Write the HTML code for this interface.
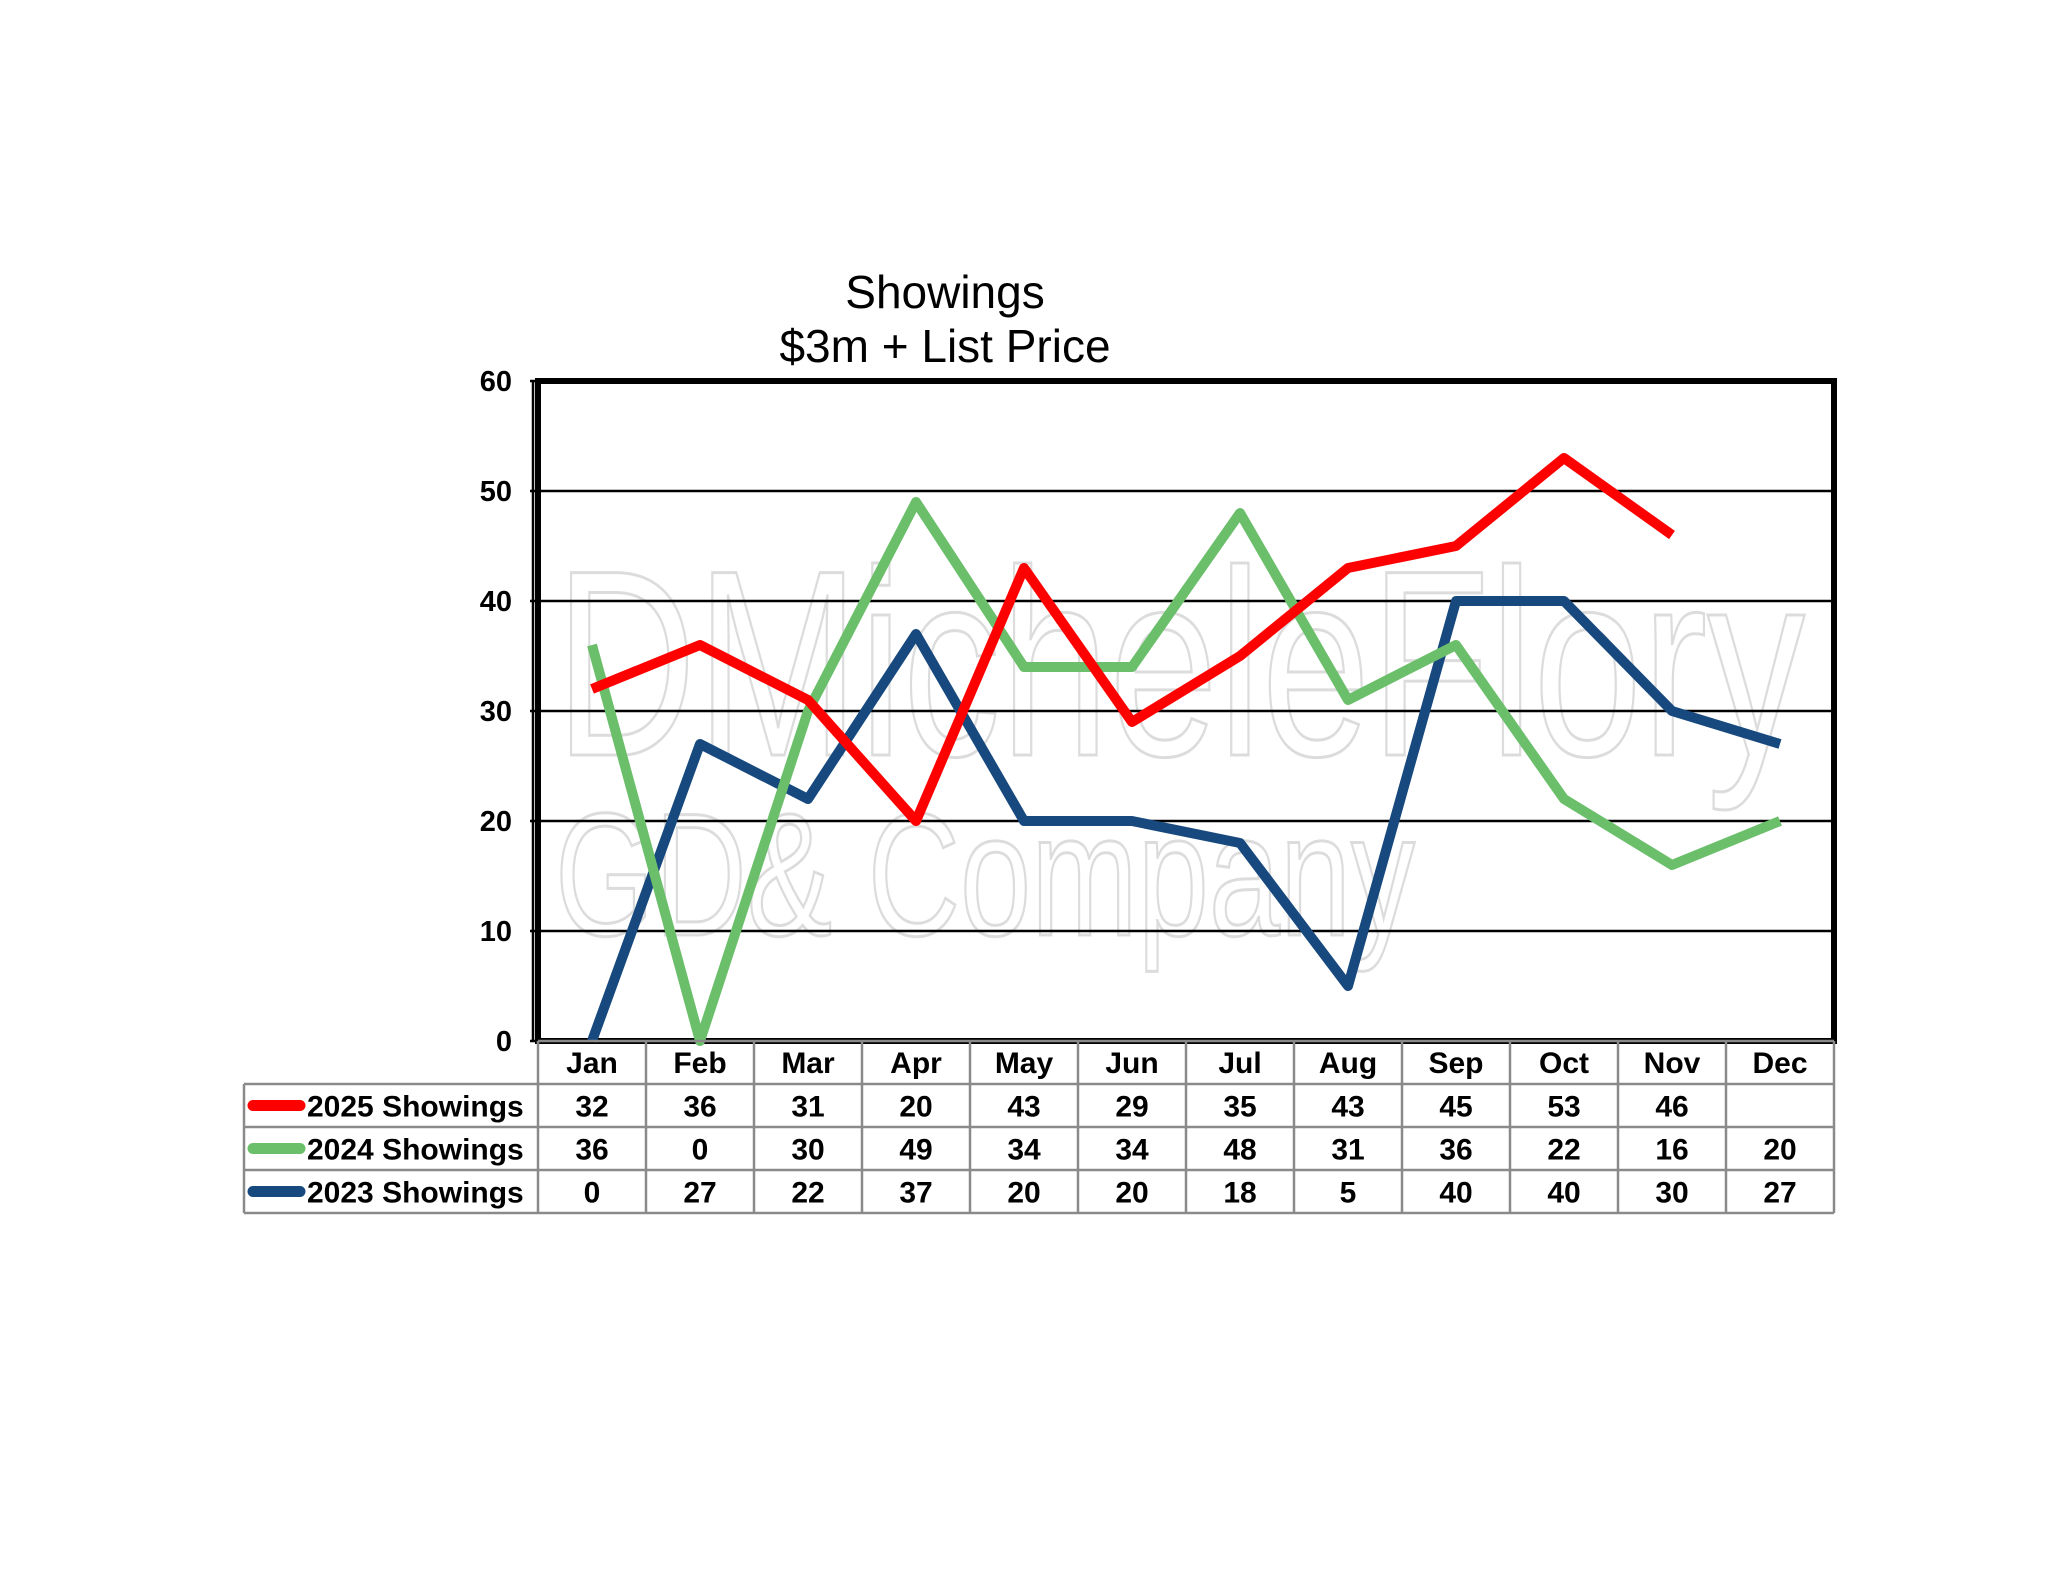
<!DOCTYPE html>
<html><head><meta charset="utf-8"><style>
body{margin:0;background:#fff;}
svg{display:block;font-family:"Liberation Sans",Arial,sans-serif;}
</style></head><body>
<svg id="chart" width="2048" height="1583" viewBox="0 0 2048 1583">
<rect width="2048" height="1583" fill="#fff"/>
<text x="945" y="308" font-size="46" text-anchor="middle">Showings</text>
<text x="945" y="362" font-size="46" text-anchor="middle">$3m + List Price</text>
<g fill="none" stroke="#dcdcdc" stroke-width="3">
<text x="555" y="755" font-size="265" textLength="1250" lengthAdjust="spacingAndGlyphs">DMicheleFlory</text>
<text x="555" y="935" font-size="175" textLength="860" lengthAdjust="spacingAndGlyphs">GD&amp; Company</text>
</g>
<g id="grid"></g>
<g id="lines"></g>
<g id="table"></g>
</svg>
<script>
const months=["Jan","Feb","Mar","Apr","May","Jun","Jul","Aug","Sep","Oct","Nov","Dec"];
const s2025=[32,36,31,20,43,29,35,43,45,53,46,null];
const s2024=[36,0,30,49,34,34,48,31,36,22,16,20];
const s2023=[0,27,22,37,20,20,18,5,40,40,30,27];
const seriesNames=["2025 Showings","2024 Showings","2023 Showings"];
const yTicks=[0,10,20,30,40,50,60];
const NS="http://www.w3.org/2000/svg";
const L=538,R=1834,T=381,B=1041,yMax=60;
const colW=(R-L)/months.length;
const xp=i=>L+colW*(i+0.5);
const yp=v=>B-(v/yMax)*(B-T);
function mk(tag,attrs,parent,txt){const e=document.createElementNS(NS,tag);for(const k in attrs)e.setAttribute(k,attrs[k]);if(txt!==undefined)e.textContent=txt;parent.appendChild(e);return e;}
const grid=document.getElementById('grid');
yTicks.forEach(v=>{
  const l=mk('line',{x1:L-8,x2:R,y1:yp(v),y2:yp(v),stroke:'#000','stroke-width':2.5},grid);
  
  
  const t=mk('text',{x:512,y:yp(v)+10,'font-size':29,'font-weight':'bold','text-anchor':'end'},grid,v);
  
  
});
const frame=mk('rect',{x:L,y:T,width:R-L,height:B-T,fill:'none',stroke:'#000','stroke-width':6},grid);


const ax=mk('line',{x1:L-5,x2:L-5,y1:T,y2:B,stroke:'#000','stroke-width':2.5},grid);


const series=[s2023,s2024,s2025];
const colors=["#17497e","#6bbf6b","#ff0000"];
const sn=["2023 Showings","2024 Showings","2025 Showings"];
const lines=document.getElementById('lines');
series.forEach((s,k)=>{
  let d="";let started=false;
  s.forEach((v,i)=>{if(v===null)return;d+=(started?"L":"M")+xp(i)+","+yp(v)+" ";started=true;});
  const p=mk('path',{d:d,fill:'none',stroke:colors[k],'stroke-width':10,'stroke-linejoin':'round'},lines);
  
  
});
const tb=document.getElementById('table');
const rowsY=[1041,1084,1127,1170,1213];
const gray='#8a8a8a';
rowsY.forEach((y,i)=>{
  const x1=i===0?L:244;
  const hl=mk('line',{x1:x1,x2:R,y1:y,y2:y,stroke:gray,'stroke-width':2.5},tb);
  
  
});
for(let i=0;i<=months.length;i++){
  const x=L+colW*i;
  const vl=mk('line',{x1:x,x2:x,y1:1041,y2:1213,stroke:gray,'stroke-width':2.5},tb);
  
  
}
const lv=mk('line',{x1:244,x2:244,y1:1084,y2:1213,stroke:gray,'stroke-width':2.5},tb);


months.forEach((m,i)=>{
  const t=mk('text',{x:xp(i),y:1073,'font-size':30,'font-weight':'bold','text-anchor':'middle'},tb,m);
  
  
});
const tableSeries=[s2025,s2024,s2023];
const tableColors=["#ff0000","#6bbf6b","#17497e"];
tableSeries.forEach((s,r)=>{
  const cy=rowsY[r+1]+21.5;
  const sw=mk('line',{x1:253,x2:300,y1:cy,y2:cy,stroke:tableColors[r],'stroke-width':11,'stroke-linecap':'round'},tb);
  
  
  const lt=mk('text',{x:307,y:cy+11,'font-size':30,'font-weight':'bold'},tb,seriesNames[r]);
  
  
  s.forEach((v,i)=>{
    if(v===null)return;
    const c=mk('text',{x:xp(i),y:cy+11,'font-size':30,'font-weight':'bold','text-anchor':'middle'},tb,v);
    
    
  });
});
</script>
</body></html>
